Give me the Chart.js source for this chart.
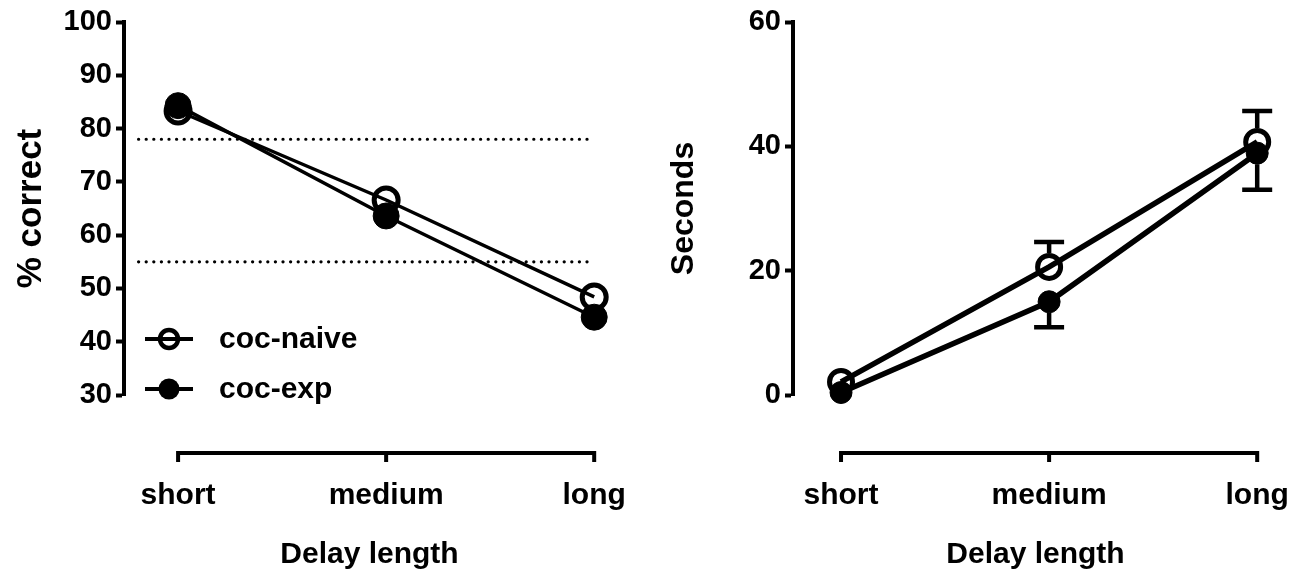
<!DOCTYPE html>
<html><head><meta charset="utf-8">
<script src="https://cdn.jsdelivr.net/npm/chart.js@4"></script>
<style>
html,body{margin:0;padding:0;background:#fff;}
#wrap{position:relative;width:1310px;height:580px;background:#fff;}
.c{position:absolute;top:0;width:655px;height:580px;}
</style></head><body>
<div id="wrap">
<div class="c" style="left:0"><canvas id="left" width="655" height="580"></canvas></div>
<div class="c" style="left:655px"><canvas id="right" width="655" height="580"></canvas></div>
</div>
<script>
// ---------- data ----------
const categories = ['short', 'medium', 'long'];
const seriesNames = ['coc-naive', 'coc-exp'];
const accuracyNaive = [83.3, 66.6, 48.4];
const accuracyExp = [84.3, 63.6, 44.6];
const chanceLines = [78, 55];
const chanceLineSpan = [-0.19, 1.97];
const accuracyAxis = [30, 100, 10];   // min, max, step
const secondsNaive = [2.1, 20.6, 40.7];
const secondsExp = [0.4, 15.0, 38.9];
const secondsNaiveErrUp = [0.5, 4.0, 5.0];
const secondsExpErrDown = [0.5, 4.1, 5.9];
const secondsAxis = [0, 60, 20];
const xTitle = 'Delay length';
const yTitles = ['% correct', 'Seconds'];

// ---------- helpers ----------
const FONT = '"Liberation Sans", Arial, Helvetica, sans-serif';
Chart.defaults.font.family = FONT;
Chart.defaults.color = '#000';
const toPts = arr => arr.map((v, i) => ({x: i, y: v}));

const bracketAxis = {
  id: 'bracketAxis',
  afterDraw(chart, args, o) {
    const {ctx, chartArea} = chart;
    const x = chart.scales.x;
    const y = chartArea.bottom + o.offset;
    const xs = categories.map((c, i) => x.getPixelForValue(i));
    ctx.save();
    ctx.strokeStyle = '#000';
    ctx.lineWidth = o.width;
    ctx.beginPath();
    ctx.moveTo(xs[0] - o.width / 2, y);
    ctx.lineTo(xs[xs.length - 1] + o.width / 2, y);
    xs.forEach(px => { ctx.moveTo(px, y - o.width / 2); ctx.lineTo(px, y + o.tick); });
    ctx.stroke();
    ctx.restore();
  }
};

const insideLegend = {
  id: 'insideLegend',
  afterDatasetsDraw(chart, args, o) {
    if (!o.show) return;
    const ctx = chart.ctx;
    o.items.forEach((name, k) => {
      const ds = chart.data.datasets.find(d => d.label === name);
      const y = o.y + k * o.gap;
      const cx = o.x + o.lineLen / 2;
      ctx.save();
      ctx.strokeStyle = '#000';
      ctx.lineWidth = o.lineWidth;
      ctx.beginPath(); ctx.moveTo(o.x, y); ctx.lineTo(o.x + o.lineLen, y); ctx.stroke();
      ctx.beginPath();
      ctx.arc(cx, y, o.radius[k], 0, Math.PI * 2);
      if (ds.pointBackgroundColor === '#000') { ctx.fillStyle = '#000'; ctx.fill(); }
      else { ctx.lineWidth = o.ringWidth; ctx.stroke(); }
      ctx.fillStyle = '#000';
      ctx.font = 'bold ' + o.fontSize + 'px ' + FONT;
      ctx.textBaseline = 'middle';
      ctx.textAlign = 'left';
      ctx.fillText(name, o.textX, y + 1);
      ctx.restore();
    });
  }
};

const errorBars = {
  id: 'errorBars',
  afterDatasetsDraw(chart, args, o) {
    if (!o.bars) return;
    const {ctx} = chart;
    const x = chart.scales.x, y = chart.scales.y;
    ctx.save();
    ctx.strokeStyle = '#000';
    ctx.lineWidth = o.width;
    o.bars.forEach(b => {
      b.values.forEach((v, i) => {
        const px = x.getPixelForValue(i);
        const py = y.getPixelForValue(v);
        const pe = y.getPixelForValue(v + b.dir * b.errors[i]);
        const start = py - b.dir * b.gap;
        if (Math.abs(pe - py) <= b.gap) return;
        ctx.beginPath();
        ctx.moveTo(px, start); ctx.lineTo(px, pe);
        ctx.moveTo(px - o.cap, pe); ctx.lineTo(px + o.cap, pe);
        ctx.stroke();
      });
    });
    ctx.restore();
  }
};

function makeChart(id, cfg) {
  return new Chart(document.getElementById(id), {
    type: 'line',
    data: {datasets: cfg.datasets},
    options: {
      responsive: false,
      animation: false,
      events: [],
      layout: {padding: {top: 22, left: 0, right: cfg.padRight, bottom: 0}},
      plugins: {
        legend: {display: false},
        tooltip: {enabled: false},
        bracketAxis: {offset: 58, width: 4, tick: 9},
        insideLegend: cfg.legend || {show: false},
        errorBars: cfg.errorBars || {}
      },
      scales: {
        x: {
          type: 'linear', min: cfg.xMin, max: 2.1,
          afterBuildTicks: s => { s.ticks = categories.map((c, i) => ({value: i})); },
          ticks: {autoSkip: false, maxRotation: 0, padding: 0, color: '#000',
                  font: {size: 30, weight: 'bold'}, callback: v => categories[v]},
          grid: {display: true, drawOnChartArea: false, drawTicks: true, tickLength: 83,
                 color: 'rgba(0,0,0,0)'},
          border: {display: false},
          title: {display: true, text: xTitle, color: '#000',
                  font: {size: 30, weight: 'bold'}, padding: {top: 0, bottom: 7}},
          afterFit: s => { s.height = 185; s.paddingLeft = 0; s.paddingRight = 0; }
        },
        y: {
          min: cfg.yAxis[0], max: cfg.yAxis[1],
          ticks: {stepSize: cfg.yAxis[2], padding: 4, color: '#000', font: {size: 29, weight: 'bold'}},
          grid: {drawOnChartArea: false, tickLength: 8, tickWidth: 4, color: '#000'},
          border: {display: true, width: 4, color: '#000'},
          title: {display: true, text: cfg.yTitle, color: '#000',
                  font: {size: cfg.yTitleSize, weight: 'bold'}, padding: {top: cfg.yTitlePad, bottom: 0}},
          afterFit: s => { s.width = cfg.axisLeft; }
        }
      }
    },
    plugins: [bracketAxis, insideLegend, errorBars]
  });
}

// ---------- left: % correct ----------
const leftSets = [
  {label: seriesNames[1], data: toPts(accuracyExp), borderColor: '#000', borderWidth: 3.5,
   pointRadius: 13, pointBackgroundColor: '#000', pointBorderColor: '#000', pointBorderWidth: 1, clip: false},
  {label: seriesNames[0], data: toPts(accuracyNaive), borderColor: '#000', borderWidth: 3.5,
   pointRadius: 12, pointBackgroundColor: 'rgba(0,0,0,0)', pointBorderColor: '#000', pointBorderWidth: 5, clip: false}
].concat(chanceLines.map(v => ({
  label: 'chance ' + v, data: chanceLineSpan.map(x => ({x: x, y: v})),
  borderColor: '#000', borderWidth: 3.2, borderDash: [0.1, 7.5], borderCapStyle: 'round',
  pointRadius: 0
})));

makeChart('left', {
  datasets: leftSets, yAxis: accuracyAxis, yTitle: yTitles[0], yTitlePad: 10, yTitleSize: 35,
  axisLeft: 124, xMin: -0.26, padRight: 40,
  legend: {show: true, items: seriesNames, x: 145, lineLen: 48, y: 339, gap: 50,
           lineWidth: 4, radius: [9, 10.5], ringWidth: 4.5, textX: 219, fontSize: 30}
});

// ---------- right: seconds ----------
const rightSets = [
  {label: seriesNames[1], data: toPts(secondsExp), borderColor: '#000', borderWidth: 5.5,
   pointRadius: 11, pointBackgroundColor: '#000', pointBorderColor: '#000', pointBorderWidth: 1, clip: false},
  {label: seriesNames[0], data: toPts(secondsNaive), borderColor: '#000', borderWidth: 5.5,
   pointRadius: 11.5, pointBackgroundColor: 'rgba(0,0,0,0)', pointBorderColor: '#000', pointBorderWidth: 5, clip: false}
];

makeChart('right', {
  datasets: rightSets, yAxis: secondsAxis, yTitle: yTitles[1], yTitlePad: 10, yTitleSize: 32,
  axisLeft: 138, xMin: -0.2308, padRight: 32,
  errorBars: {width: 4.5, cap: 15, bars: [
    {values: secondsNaive, errors: secondsNaiveErrUp, dir: 1, gap: 14},
    {values: secondsExp, errors: secondsExpErrDown, dir: -1, gap: 11}
  ]}
});
</script>
</body></html>
